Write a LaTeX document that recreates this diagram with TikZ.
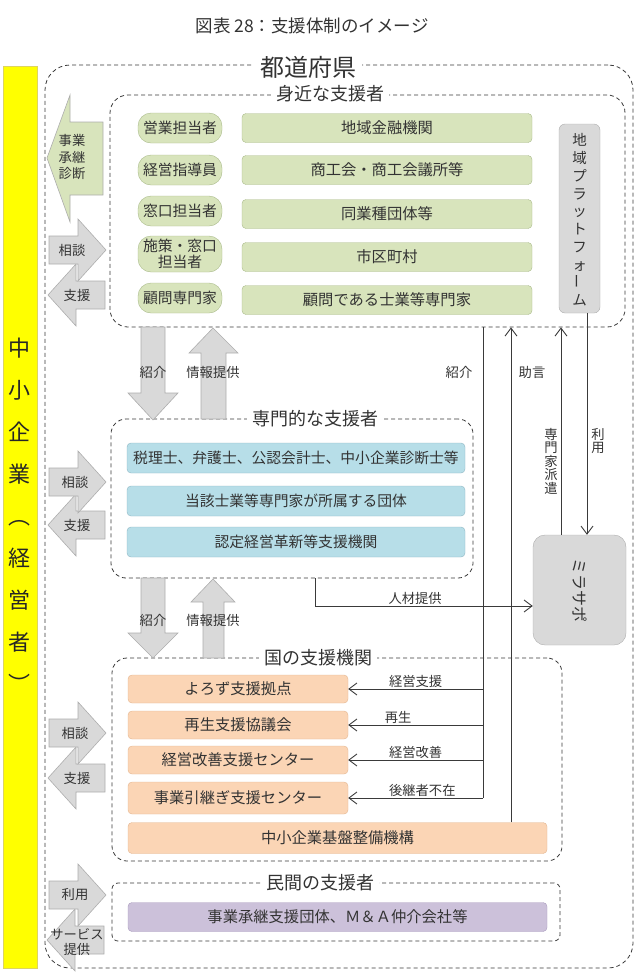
\documentclass[tikz,border=0pt]{standalone}
\usepackage{fontspec}
\usepackage{graphicx}
\setmainfont{Noto Sans CJK JP}
\usetikzlibrary{arrows.meta,positioning,calc}

\definecolor{txt}{HTML}{333333}
\definecolor{wire}{HTML}{3A3A3A}
\definecolor{greenF}{HTML}{D8E4BC}
\definecolor{greenD}{HTML}{A9BA8A}
\definecolor{blueF}{HTML}{B7DEE8}
\definecolor{blueD}{HTML}{8FB6C3}
\definecolor{orangeF}{HTML}{FBD5B5}
\definecolor{orangeD}{HTML}{E2B58F}
\definecolor{purpleF}{HTML}{CCC1DA}
\definecolor{purpleD}{HTML}{A99BBD}
\definecolor{grayF}{HTML}{D9D9D9}
\definecolor{grayD}{HTML}{ADADAD}
\definecolor{yellowF}{HTML}{FFFF00}
\definecolor{yellowD}{HTML}{DDD460}

\begin{document}
\begin{tikzpicture}[
    x=1pt, y=-1pt,
    >={Straight Barb[length=8pt,width=12pt]},
    every node/.style={text=txt},
    frame/.style={draw=wire, dash pattern=on 4pt off 3pt, line width=0.8pt, inner sep=0pt},
    ftitle/.style={fill=white, inner sep=5pt, font=\fontsize{18}{20}\selectfont},
    staff/.style={draw=greenD, fill=greenF, rounded corners=13pt, minimum width=84pt, minimum height=30pt, align=center, inner sep=1pt, font=\fontsize{14.8}{16}\selectfont},
    org/.style={draw=greenD, fill=greenF, rounded corners=4pt, minimum width=290pt, minimum height=29pt, font=\fontsize{15.3}{17}\selectfont},
    expertbox/.style={draw=blueD, fill=blueF, rounded corners=4pt, minimum width=338pt, minimum height=30pt, inner sep=1pt, font=\fontsize{14.8}{17}\selectfont},
    natbox/.style={draw=orangeD, fill=orangeF, rounded corners=4pt, minimum width=220pt, minimum height=28pt, font=\fontsize{15.3}{17}\selectfont},
    privbox/.style={draw=purpleD, fill=purpleF, rounded corners=4pt, minimum width=419pt, minimum height=29pt, font=\fontsize{15.3}{17}\selectfont},
    graybox/.style={draw=grayD, fill=grayF, inner sep=0pt},
    bigarr/.style={fill=grayF, draw=grayD, line width=0.6pt},
    arrlbl/.style={inner sep=0pt, align=center, font=\fontsize{13.3}{14.5}\selectfont},
    wlbl/.style={inner sep=1pt, align=center, font=\fontsize{13.3}{13.5}\selectfont},
    conn/.style={draw=wire, line width=0.9pt},
    pics/rarr/.style={code={\draw[bigarr] (0,-14) -- (29,-14) -- (29,-31) -- (57,0) -- (29,31) -- (29,14) -- (0,14) -- cycle;}},
    pics/larr/.style={code={\draw[bigarr] (0,0) -- (28,-31) -- (28,-14) -- (57,-14) -- (57,14) -- (28,14) -- (28,31) -- cycle;}}
]
\useasboundingbox (0,0) rectangle (638,978);

% Title
\node[font=\fontsize{17.5}{20}\selectfont] (title) at (312,26) {図表 28：支援体制のイメージ};

% Enterprise bar
\node[draw=yellowD, fill=yellowF, minimum width=34pt, minimum height=902pt, inner sep=0pt] (sme) at (20,517) {};
\node[align=center, inner sep=0pt, text=black!85, font=\fontsize{22}{42}\selectfont] (smetext) at (20,515) {中\\小\\企\\業\\︵\\経\\営\\者\\︶};

% Dashed frames
\node[frame, rounded corners=25pt, minimum width=588pt, minimum height=903pt] (pref) at (339,516.5) {};
\node[frame, rounded corners=18pt, minimum width=515pt, minimum height=232pt] (near) at (367.5,211) {};
\node[frame, rounded corners=15pt, minimum width=362pt, minimum height=159pt] (expert) at (292,498.5) {};
\node[frame, rounded corners=15pt, minimum width=450pt, minimum height=203pt] (natl) at (337,759.5) {};
\node[frame, rounded corners=6pt, minimum width=448pt, minimum height=58pt] (priv) at (336,912) {};

\node[ftitle, font=\fontsize{24}{26}\selectfont, inner sep=6pt] (preflbl) at (308,67) {都道府県};
\node[ftitle] (nearlbl) at (330,94) {身近な支援者};
\node[ftitle] (expertlbl) at (315,419) {専門的な支援者};
\node[ftitle] (natllbl) at (318,658) {国の支援機関};
\node[ftitle] (privlbl) at (320,883) {民間の支援者};

% Nearby supporters
\node[staff] (s1) at (180,128) {営業担当者};
\node[staff] (s2) at (180,170) {経営指導員};
\node[staff] (s3) at (180,211) {窓口担当者};
\node[staff, minimum height=36pt] (s4) at (180,254) {施策・窓口\\担当者};
\node[staff] (s5) at (180,298) {顧問専門家};

\node[org] (o1) at (387,128) {地域金融機関};
\node[org] (o2) at (387,170) {商工会・商工会議所等};
\node[org] (o3) at (387,214) {同業種団体等};
\node[org] (o4) at (387,257) {市区町村};
\node[org] (o5) at (387,300) {顧問である士業等専門家};

\node[graybox, rounded corners=6pt, minimum width=41pt, minimum height=189pt] (platform) at (579.5,218.5) {};
\node[align=center, inner sep=0pt, font=\fontsize{14.5}{17.8}\selectfont] (platformtext) at (579.5,220) {地\\域\\プ\\ラ\\ッ\\ト\\フ\\ォ\\\rotatebox{90}{ー}\\ム};

% Expert supporters
\node[expertbox] (e1) at (296,458) {税理士、弁護士、公認会計士、中小企業診断士等};
\node[expertbox] (e2) at (296,501) {当該士業等専門家が所属する団体};
\node[expertbox] (e3) at (296,542) {認定経営革新等支援機関};

% National bodies
\node[natbox] (yorozu) at (238,689) {よろず支援拠点};
\node[natbox] (saisei) at (238,725) {再生支援協議会};
\node[natbox] (kaizen) at (238,760) {経営改善支援センター};
\node[natbox, minimum height=32pt] (hikitsugi) at (238,798) {事業引継ぎ支援センター};
\node[natbox, minimum width=419pt, minimum height=31pt] (smrj) at (337.5,838) {中小企業基盤整備機構};

% Private supporters
\node[privbox] (m1) at (337.5,917) {事業承継支援団体、Ｍ＆Ａ仲介会社等};

% Mirasapo
\node[graybox, rounded corners=12pt, minimum width=93pt, minimum height=110pt] (mirasapo) at (579.5,590) {};
\node[rotate=-90, inner sep=0pt, font=\fontsize{16}{17}\selectfont] (mirasapotext) at (mirasapo) {ミラサポ};

% Side arrows: enterprise <-> supporters
\draw[bigarr, fill=greenF] (47,158) -- (70,95) -- (70,122) -- (103,122) -- (103,195) -- (70,195) -- (70,222) -- cycle;
\node[arrlbl, font=\fontsize{13.3}{16.5}\selectfont] (diag) at (72,157) {事業\\承継\\診断};

\pic at (48,295) {larr};
\pic at (49,250) {rarr};
\node[arrlbl] (c1) at (72,250) {相談};
\node[arrlbl] (a1) at (77,295) {支援};

\pic at (48,525) {larr};
\pic at (49,482) {rarr};
\node[arrlbl] (c2) at (75,482) {相談};
\node[arrlbl] (a2) at (77,525) {支援};

\pic at (48,778) {larr};
\pic at (49,733) {rarr};
\node[arrlbl] (c3) at (75,733) {相談};
\node[arrlbl] (a3) at (77,778) {支援};

\pic at (47,940) {larr};
\pic at (49,895) {rarr};
\node[arrlbl] (u4) at (75,895) {利用};
\node[arrlbl] (a4) at (77,942) {サービス\\提供};

% Big arrows between frames
\draw[bigarr] (141,327) -- (165,327) -- (165,393) -- (178,393) -- (153,420) -- (128,393) -- (141,393) -- cycle;
\draw[bigarr] (201,419) -- (226,419) -- (226,353) -- (238,353) -- (213,328) -- (189,353) -- (201,353) -- cycle;
\node[arrlbl] (intro1) at (153,372) {紹介};
\node[arrlbl] (info1) at (213,372) {情報提供};

\draw[bigarr] (141,578) -- (165,578) -- (165,633) -- (178,633) -- (153,658) -- (128,633) -- (141,633) -- cycle;
\draw[bigarr] (203,658) -- (224,658) -- (224,602) -- (235,602) -- (213,579) -- (191,602) -- (203,602) -- cycle;
\node[arrlbl] (intro2) at (153,620) {紹介};
\node[arrlbl] (info2) at (213,620) {情報提供};

% Connectors
\coordinate (busx) at (483,327);
\coordinate (advx) at (511,327);
\coordinate (dispx) at (561,327);
\coordinate (usex) at (587,327);
\coordinate (talent) at (315,606);

\draw[conn] (near.south -| busx) -- (hikitsugi.east -| busx);
\draw[conn, ->] (yorozu.east -| busx) -- node[wlbl, above, pos=0.5] {経営支援} (yorozu.east);
\draw[conn, ->] (saisei.east -| busx) -- node[wlbl, above, pos=0.63] {再生} (saisei.east);
\draw[conn, ->] (kaizen.east -| busx) -- node[wlbl, above, pos=0.5] {経営改善} (kaizen.east);
\draw[conn, ->] (hikitsugi.east -| busx) -- node[wlbl, above, pos=0.45] {後継者不在} (hikitsugi.east);

\draw[conn, ->] (smrj.north -| advx) -- (near.south -| advx);
\draw[conn, ->] (mirasapo.north -| dispx) -- (near.south -| dispx);
\draw[conn, ->] (platform.south -| usex) -- (mirasapo.north -| usex);
\draw[conn, ->] (expert.south -| talent) -- (talent) -- node[wlbl, above, pos=0.46] {人材提供} (talent -| mirasapo.west);

\node[wlbl] (introlbl) at (459,372) {紹介};
\node[wlbl] (advlbl) at (532,372) {助言};
\node[wlbl] (displbl) at (551,461) {専\\門\\家\\派\\遣};
\node[wlbl] (uselbl) at (598,441) {利\\用};

\end{tikzpicture}
\end{document}
